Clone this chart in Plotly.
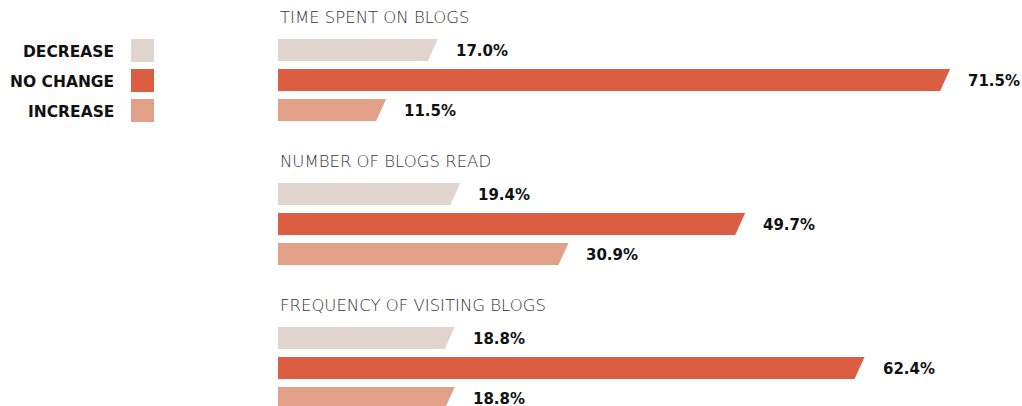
import plotly.graph_objects as go

groups = ["TIME SPENT ON BLOGS", "NUMBER OF BLOGS READ", "FREQUENCY OF VISITING BLOGS"]
series = ["DECREASE", "NO CHANGE", "INCREASE"]
decrease = [17.0, 19.4, 18.8]
no_change = [71.5, 49.7, 62.4]
increase = [11.5, 30.9, 18.8]
colors = ["#E0D4CC", "#DB5E43", "#E3A088"]

W, H = 1022, 406
X0 = 278                     # pixel of value 0
PX = 9.4                     # pixels per percent
xr = [-X0 / PX, (W - X0) / PX]
slant = 10 / PX
bar_h = 22
label_gap = 16 / PX

fig = go.Figure()
values = [decrease, no_change, increase]
BOLD = "DejaVu Sans"

for g, title in enumerate(groups):
    base = 39 + g * 144
    fig.add_annotation(x=0, y=base - 22, xref="x", yref="y", text=title,
                       showarrow=False, xanchor="left", yanchor="middle",
                       font=dict(family="DejaVu Sans", size=16.5, color="#333333", weight=300))
    for s in range(3):
        v = values[s][g]
        top = base + s * 30
        bot = top + bar_h
        fig.add_trace(go.Scatter(
            x=[0, v, v - slant, 0, 0], y=[top, top, bot, bot, top],
            fill="toself", fillcolor=colors[s], mode="lines",
            line=dict(width=0, color=colors[s]), hoverinfo="skip", showlegend=False))
        fig.add_annotation(x=v + label_gap, y=top + bar_h / 2 + 1, xref="x", yref="y",
                           text=f"<b>{v:.1f}%</b>", showarrow=False,
                           xanchor="left", yanchor="middle",
                           font=dict(family=BOLD, size=15, color="#111111"))

# legend
for s, name in enumerate(series):
    top = 39 + s * 30
    fig.add_shape(type="rect", xref="paper", yref="y",
                  x0=131 / W, x1=154 / W, y0=top, y1=top + 23,
                  fillcolor=colors[s], line=dict(width=0))
    fig.add_annotation(x=116 / W, y=top + 12.5, xref="paper", yref="y",
                       text=f"<b>{name}</b>", showarrow=False,
                       xanchor="right", yanchor="middle",
                       font=dict(family=BOLD, size=15.5, color="#111111"))

fig.update_layout(
    width=W, height=H, margin=dict(l=0, r=0, t=0, b=0),
    plot_bgcolor="white", paper_bgcolor="white",
    xaxis=dict(range=xr, visible=False, fixedrange=True),
    yaxis=dict(range=[H, 0], visible=False, fixedrange=True),
)
fig.write_html("out.html", config={"displayModeBar": False},
               post_script="document.body.style.margin='0';document.body.style.overflow='hidden';")
